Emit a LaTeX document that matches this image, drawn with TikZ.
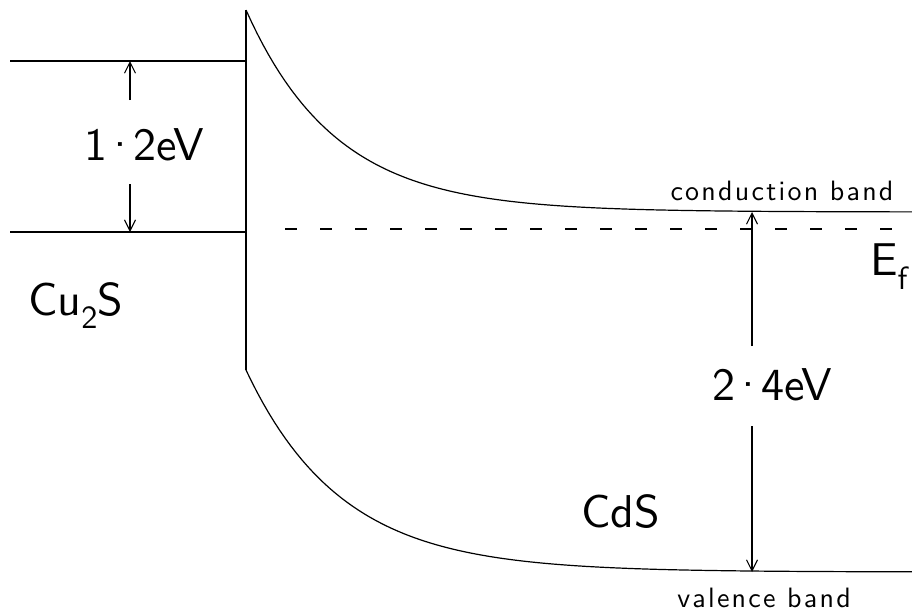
\documentclass[tikz,border=0pt]{standalone}
\usepackage{fontspec}
\usepackage{tikz}
\usetikzlibrary{arrows.meta}
\newfontfamily\labfont{lmsans10-regular.otf}
\newfontfamily\bandfont[LetterSpace=8]{lmsans10-regular.otf}
\newcommand{\mdot}{\kern-0.1em·\kern-0.1em}

\begin{document}
\begin{tikzpicture}[
  x=1pt, y=-1pt,
  band/.style={line width=1.2pt, line join=round},
  fermi/.style={line width=1.2pt, dash pattern=on 12pt off 23pt},
  arr/.style={-{Straight Barb[length=11pt,width=11pt]}, line width=1.1pt},
  biglab/.style={font=\labfont\fontsize{46}{50}\selectfont, inner sep=0pt},
  smalllab/.style={font=\bandfont\fontsize{28}{30}\selectfont, inner sep=0pt}
]
\useasboundingbox (0,0) rectangle (912,614);
% Cu2S levels and interface
\draw[band] (10,61) -- (247,61);
\draw[band] (10,232) -- (245,232);
\draw[band] (246,10) -- (246,370);
% CdS bands
\draw[band] plot[domain=246:912, samples=120] (\x, {212-202*exp(-(\x-246)/90)});
\draw[band] plot[domain=246:912, samples=120] (\x, {572-202*exp(-(\x-246)/95)});
\draw[fermi] (285,229) -- (912,229);
% labels
\node[biglab, anchor=base west] (gapcu) at (84,160) {1\mdot2eV};
\node[biglab, anchor=base west] (cu) at (28,315) {Cu\textsubscript{2}S};
\node[biglab, anchor=base west] (gapcd) at (712,400) {2\mdot4eV};
\node[biglab, anchor=base west] (cd) at (581,527) {CdS};
\node[biglab, anchor=base west] (ef) at (870,275) {E\textsubscript{f}};
\node[smalllab, anchor=base] (cb) at (782,200) {conduction band};
\node[smalllab, anchor=base] (vb) at (764,607) {valence band};
% gap arrows
\coordinate (cutop) at (130,61);
\coordinate (cubot) at (130,232);
\coordinate (cdtop) at (752,212);
\coordinate (cdbot) at (752,572);
\coordinate (cua) at (130,100);
\coordinate (cub) at (130,184);
\coordinate (cda) at (752,346);
\coordinate (cdb) at (752,426);
\draw[arr] (cua) -- (cutop);
\draw[arr] (cub) -- (cubot);
\draw[arr] (cda) -- (cdtop);
\draw[arr] (cdb) -- (cdbot);
\end{tikzpicture}
\end{document}
